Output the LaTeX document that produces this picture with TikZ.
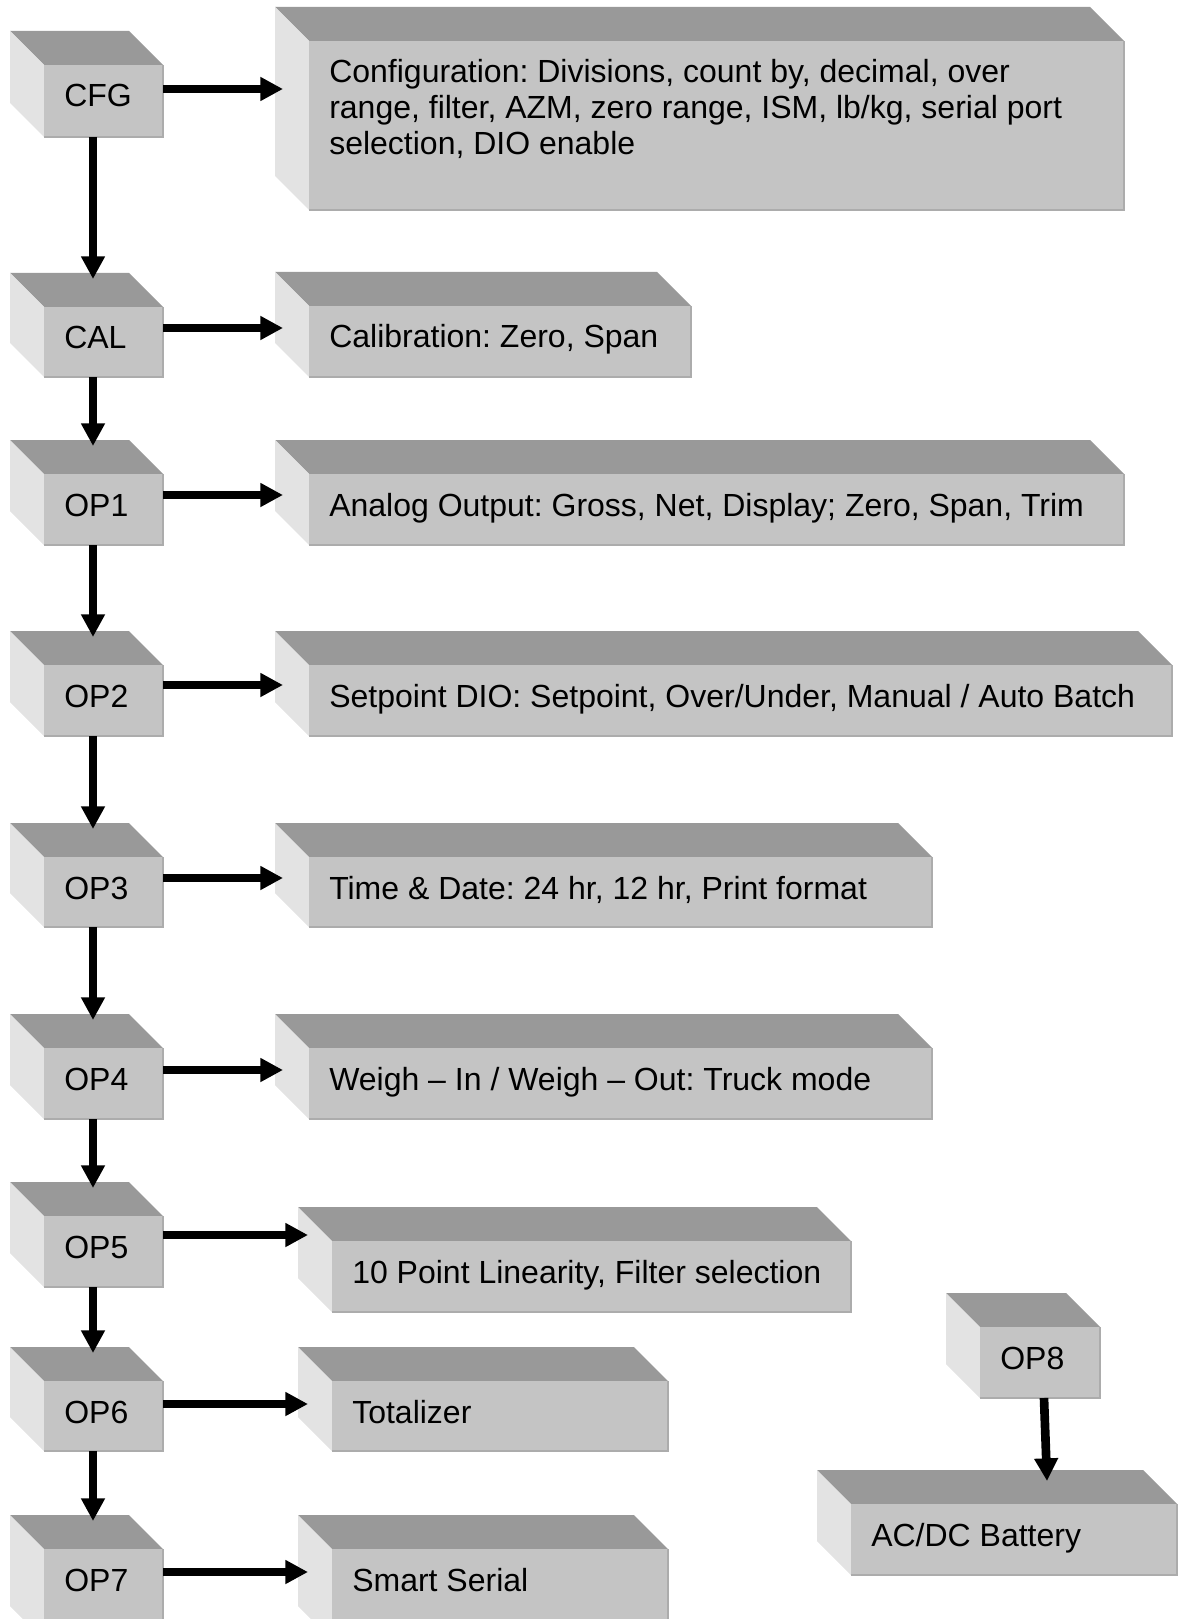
\documentclass[tikz,border=0pt]{standalone}
\usepackage{fontspec}
\setmainfont{Liberation Sans}
\frenchspacing
\usetikzlibrary{arrows.meta,fit,calc}
\definecolor{topc}{RGB}{153,153,153}
\definecolor{leftc}{RGB}{227,227,227}
\definecolor{frontc}{RGB}{196,196,196}
\definecolor{edgec}{RGB}{172,172,172}
\tikzset{
  frontface/.style={inner sep=0pt, outer sep=0pt, fill=frontc},
  lbl/.style={anchor=base west, inner sep=0pt, align=left, font=\fontsize{24pt}{27pt}\selectfont},
  arr/.style={line width=6.5pt, -{Triangle[length=17pt,width=17pt]}},
  edgeline/.style={draw=edgec, line width=1.2pt}
}
\newcommand\mycube[7][42]{%
  \fill[topc] (#3,#4) -- ({#5-34},#4) -- (#5,{#4+34}) -- ({#3+34},{#4+34}) -- cycle;
  \fill[leftc] (#3,#4) -- ({#3+34},{#4+34}) -- ({#3+34},#6) -- (#3,{#6-34}) -- cycle;
  \node[frontface, fit={({#3+34},{#4+34}) (#5,#6)}] (#2) {};
  \draw[edgeline] (#2.south west) -- (#2.south east) -- (#2.north east);
  \node[lbl] (#2-t) at ([shift={(20,#1)}]#2.north west) {#7};
}
\begin{document}
\begin{tikzpicture}[x=0.75pt,y=-0.75pt]
\useasboundingbox (0,0) rectangle (1189,1619);
\clip (0,0) rectangle (1189,1619);
% left column
\mycube{cfg}{10}{31}{163}{137}{CFG}
\mycube{cal}{10}{273}{163}{377}{CAL}
\mycube{op1}{10}{440}{163}{545}{OP1}
\mycube{op2}{10}{631}{163}{736}{OP2}
\mycube{op3}{10}{823}{163}{927}{OP3}
\mycube{op4}{10}{1014}{163}{1119}{OP4}
\mycube{op5}{10}{1182}{163}{1287}{OP5}
\mycube{op6}{10}{1347}{163}{1451}{OP6}
\mycube{op7}{10}{1515}{163}{1640}{OP7}
% right column
\mycube[114]{conf}{275}{7}{1124}{210}{Configuration: Divisions, count by, decimal, over\\range, filter, AZM, zero range, ISM, lb/kg, serial port\\selection, DIO enable}
\mycube{calib}{275}{272}{691}{377}{Calibration: Zero, Span}
\mycube{analog}{275}{440}{1124}{545}{Analog Output: Gross, Net, Display; Zero, Span, Trim}
\mycube{setp}{275}{631}{1172}{736}{Setpoint DIO: Setpoint, Over/Under, Manual / Auto Batch}
\mycube{timed}{275}{823}{932}{927}{Time \& Date: 24 hr, 12 hr, Print format}
\mycube{weigh}{275}{1014}{932}{1119}{Weigh – In / Weigh – Out: Truck mode}
\mycube{lin}{298}{1207}{851}{1312}{10 Point Linearity, Filter selection}
\mycube{tot}{298}{1347}{668}{1451}{Totalizer}
\mycube{smart}{298}{1515}{668}{1640}{Smart Serial}
\mycube{op8}{946}{1293}{1100}{1398}{OP8}
\mycube{acdc}{817}{1470}{1177}{1575}{AC/DC Battery}
% entry points
\coordinate (cal-in) at (93,279);
\coordinate (op1-in) at (93,446);
\coordinate (op2-in) at (93,637);
\coordinate (op3-in) at (93,829);
\coordinate (op4-in) at (93,1020);
\coordinate (op5-in) at (93,1188);
\coordinate (op6-in) at (93,1353);
\coordinate (op7-in) at (93,1521);
\coordinate (conf-in) at (283,89);
\coordinate (calib-in) at (283,328);
\coordinate (analog-in) at (283,495);
\coordinate (setp-in) at (283,685);
\coordinate (timed-in) at (283,878);
\coordinate (weigh-in) at (283,1070);
\coordinate (lin-in) at (308,1235);
\coordinate (tot-in) at (308,1404);
\coordinate (smart-in) at (308,1572);
\coordinate (acdc-in) at (1047,1481);
% vertical arrows
\draw[arr] (cfg.south -| cal-in) -- (cal-in);
\draw[arr] (cal.south -| op1-in) -- (op1-in);
\draw[arr] (op1.south -| op2-in) -- (op2-in);
\draw[arr] (op2.south -| op3-in) -- (op3-in);
\draw[arr] (op3.south -| op4-in) -- (op4-in);
\draw[arr] (op4.south -| op5-in) -- (op5-in);
\draw[arr] (op5.south -| op6-in) -- (op6-in);
\draw[arr] (op6.south -| op7-in) -- (op7-in);
% horizontal arrows
\draw[arr] (cfg.east |- conf-in) -- (conf-in);
\draw[arr] (cal.east |- calib-in) -- (calib-in);
\draw[arr] (op1.east |- analog-in) -- (analog-in);
\draw[arr] (op2.east |- setp-in) -- (setp-in);
\draw[arr] (op3.east |- timed-in) -- (timed-in);
\draw[arr] (op4.east |- weigh-in) -- (weigh-in);
\draw[arr] (op5.east |- lin-in) -- (lin-in);
\draw[arr] (op6.east |- tot-in) -- (tot-in);
\draw[arr] (op7.east |- smart-in) -- (smart-in);
% OP8 -> AC/DC
\draw[arr] ([xshift=3pt]op8.south) -- (acdc-in);
\end{tikzpicture}
\end{document}
